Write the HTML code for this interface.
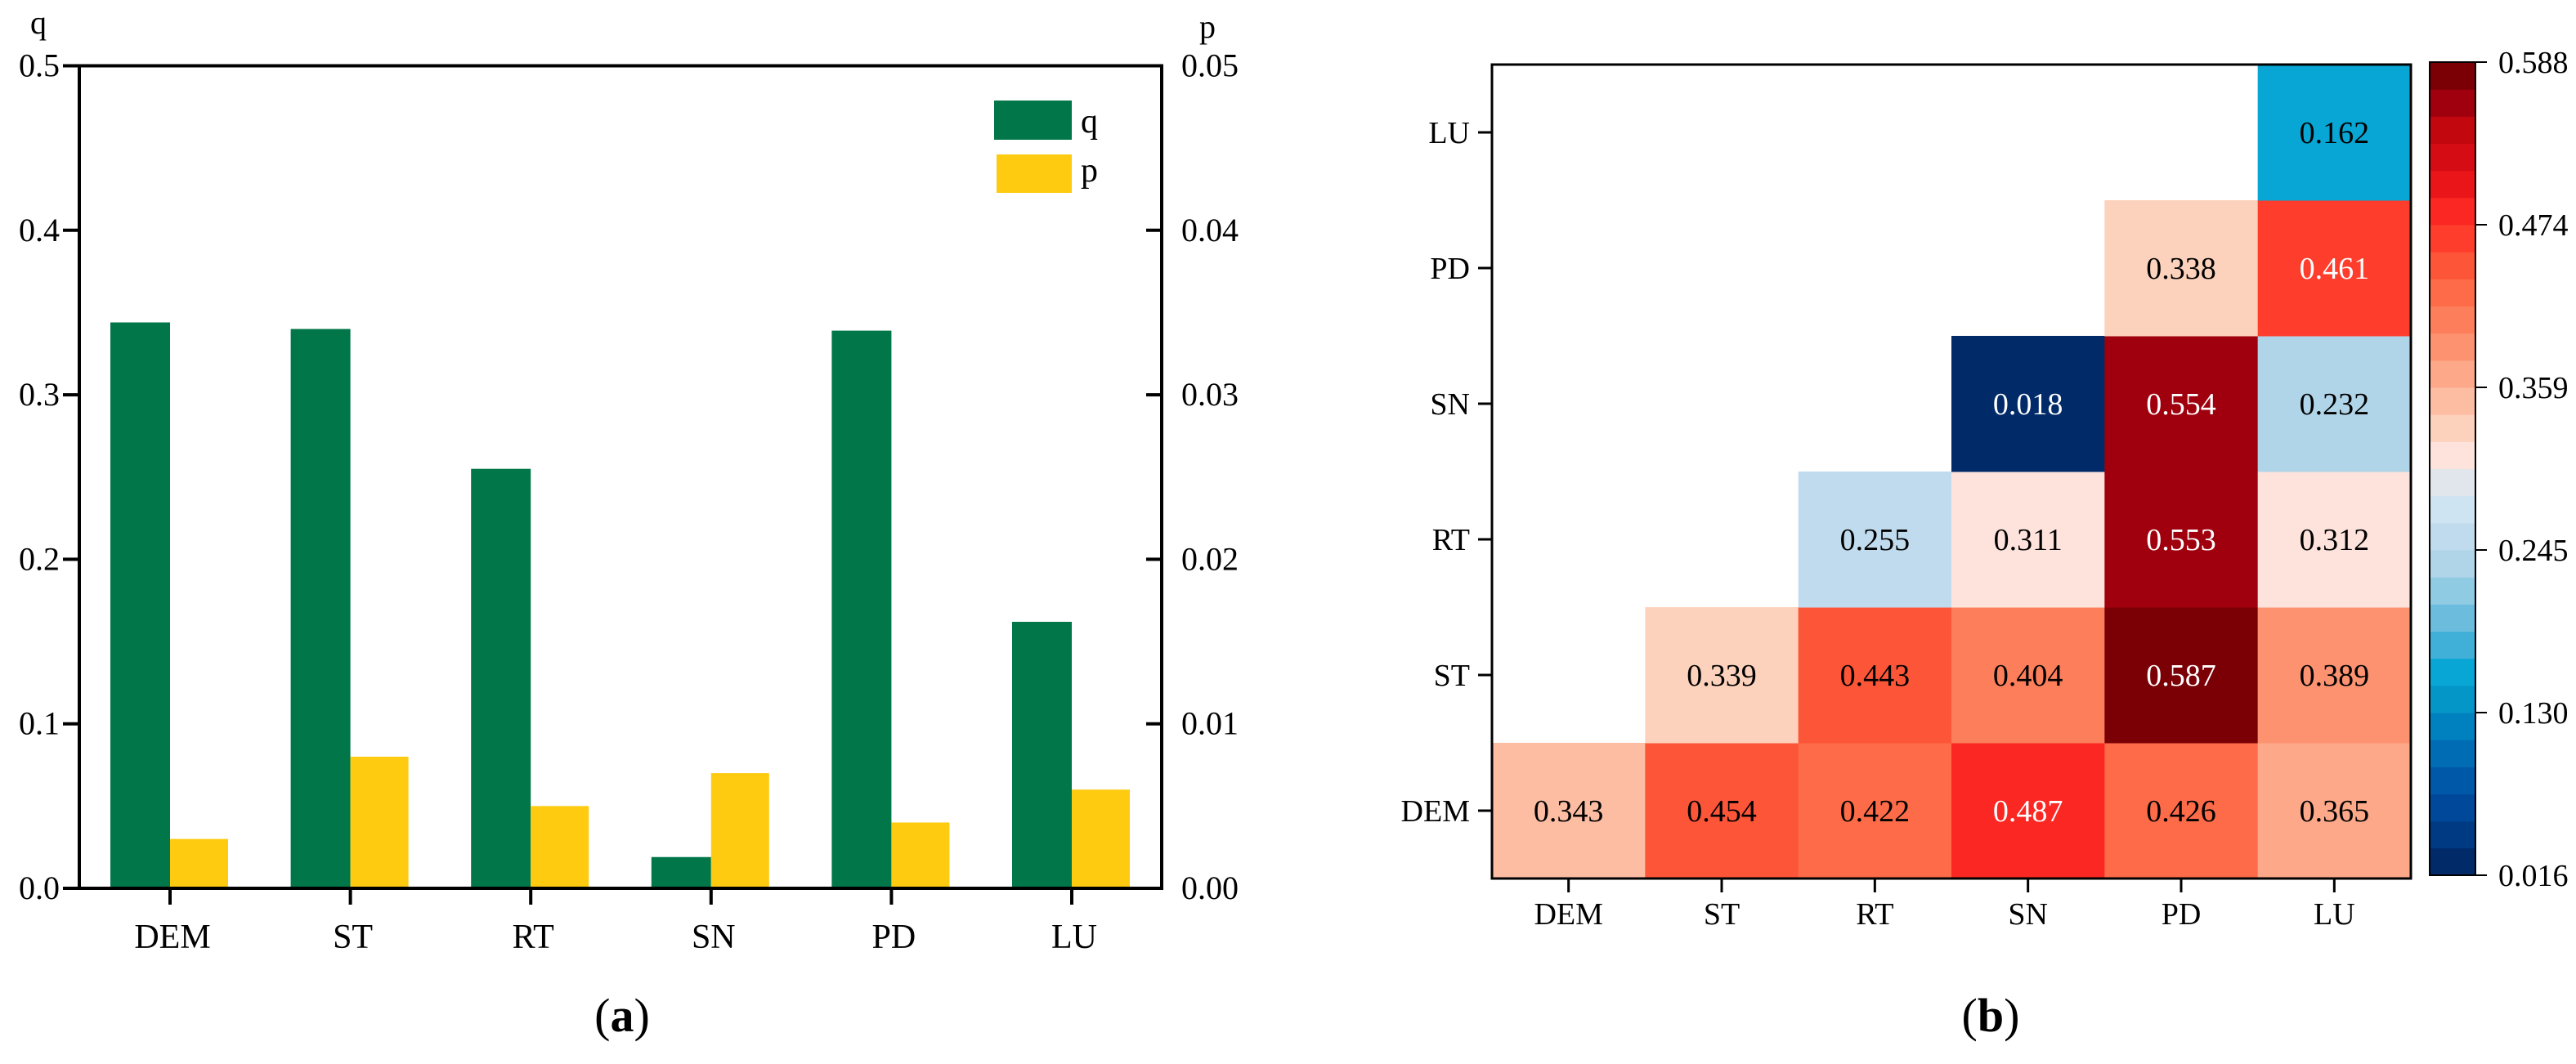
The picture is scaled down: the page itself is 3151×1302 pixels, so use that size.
<!DOCTYPE html>
<html><head><meta charset="utf-8"><style>
html,body{margin:0;padding:0;background:#fff;}
svg{display:block;font-family:"Liberation Serif","DejaVu Serif",serif;}
</style></head><body>
<svg id="fig" width="3151" height="1302" viewBox="0 0 3151 1302" xmlns="http://www.w3.org/2000/svg">
<g id="chartA"></g>
<g id="chartB"></g>
</svg>
<script>
const categories = ["DEM","ST","RT","SN","PD","LU"];
const qValues = [0.344,0.340,0.255,0.019,0.339,0.162];
const pValues = [0.003,0.008,0.005,0.007,0.004,0.006];
const leftTicks = [0.0,0.1,0.2,0.3,0.4,0.5];
const leftTickLabels = ["0.0","0.1","0.2","0.3","0.4","0.5"];
const rightTicks = [0.00,0.01,0.02,0.03,0.04,0.05];
const rightTickLabels = ["0.00","0.01","0.02","0.03","0.04","0.05"];
const heatRows = ["DEM","ST","RT","SN","PD","LU"];
const heatCols = ["DEM","ST","RT","SN","PD","LU"];
// heatValues[row][col], row 0 = DEM (bottom); null = empty
const heatValues = [
 [0.343,0.454,0.422,0.487,0.426,0.365],
 [null,0.339,0.443,0.404,0.587,0.389],
 [null,null,0.255,0.311,0.553,0.312],
 [null,null,null,0.018,0.554,0.232],
 [null,null,null,null,0.338,0.461],
 [null,null,null,null,null,0.162]
];
const cbarMin = 0.016, cbarMax = 0.588;
const cbarTickLabels = ["0.016","0.130","0.245","0.359","0.474","0.588"];
const NS="http://www.w3.org/2000/svg";
function mk(parent,tag,attrs,text){const e=document.createElementNS(NS,tag);for(const k in attrs)e.setAttribute(k,attrs[k]);if(text!==undefined)e.textContent=text;parent.appendChild(e);return e;}

// ---- Chart A ----
const A=document.getElementById('chartA');
const ax={l:97,r:1421,t:80.5,b:1087};
const yL=v=>ax.b-(v/0.5)*(ax.b-ax.t);
const yR=v=>ax.b-(v/0.05)*(ax.b-ax.t);
const xC=i=>208+i*220.6;
const bw=73;
categories.forEach((c,i)=>{
  let r=mk(A,'rect',{x:xC(i)-bw,y:yL(qValues[i]),width:bw,height:ax.b-yL(qValues[i]),fill:'#017648'});
  
  
  r=mk(A,'rect',{x:xC(i),y:yR(pValues[i]),width:bw-2,height:ax.b-yR(pValues[i]),fill:'#fecb10'});
  
  
  mk(A,'line',{x1:xC(i),x2:xC(i),y1:ax.b,y2:ax.b+20,stroke:'#000','stroke-width':4});
  const t=mk(A,'text',{x:xC(i)+3,y:1160,'font-size':42,'text-anchor':'middle'},c);
  
  
});
mk(A,'rect',{x:ax.l,y:ax.t,width:ax.r-ax.l,height:ax.b-ax.t,fill:'none',stroke:'#000','stroke-width':4});
leftTicks.forEach((v,i)=>{
  mk(A,'line',{x1:ax.l-20,x2:ax.l,y1:yL(v),y2:yL(v),stroke:'#000','stroke-width':4});
  const t=mk(A,'text',{x:ax.l-24,y:yL(v)+13,'font-size':40,'text-anchor':'end'},leftTickLabels[i]);
  
  
});
rightTicks.forEach((v,i)=>{
  mk(A,'line',{x1:ax.r-19,x2:ax.r,y1:yR(v),y2:yR(v),stroke:'#000','stroke-width':4});
  const t=mk(A,'text',{x:1445,y:yR(v)+13,'font-size':40,'text-anchor':'start'},rightTickLabels[i]);
  
  
});
</script>
<script>
// static decorations for chart A
(function(){
const A=document.getElementById('chartA');
function T(x,y,s,txt,name,extra){const e=document.createElementNS("http://www.w3.org/2000/svg",'text');e.setAttribute('x',x);e.setAttribute('y',y);e.setAttribute('font-size',s);if(extra)for(const k in extra)e.setAttribute(k,extra[k]);e.textContent=txt;


A.appendChild(e);}
T(37,41,40,'q','left-axis-title');
T(1467,46,40,'p','right-axis-title');
const g=document.createElementNS("http://www.w3.org/2000/svg",'g');


A.appendChild(g);
g.innerHTML='<rect x="1216" y="123" width="95" height="48" fill="#017648"/><rect x="1219" y="189" width="92" height="47" fill="#fecb10"/>';
T(1322,162,42,'q','legend-label-q');
T(1322,222,42,'p','legend-label-p');
T(761,1262,58,'','panel-label-a',{'text-anchor':'middle'});
const last=A.lastChild;last.innerHTML='(<tspan font-weight="bold">a</tspan>)';
})();
</script>
<script>
// ---- Chart B ----
const B=document.getElementById('chartB');
const hb={l:1825,r:2949,t:79,b:1075};
const cw=(hb.r-hb.l)/heatCols.length, rh=(hb.b-hb.t)/heatRows.length;
const cmap=["#002a68","#003a82","#004899","#0059a8","#006cb3","#0081bf","#0596c8","#07a6d4","#40b0d9","#6cbcdd","#90cbe4","#b0d4e8","#c1dbee","#cfe4f2","#e1e6ed","#fde3dc","#fdd2bc","#fdbda3","#fca889","#fc9270","#fc7e5a","#fd6b48","#fd5538","#fe3d2d","#fb2722","#ea1518","#d50c14","#c2070f","#a0000e","#7a0006"];
function colorOf(v){let k=Math.floor((v-cbarMin)/(cbarMax-cbarMin)*cmap.length);k=Math.max(0,Math.min(cmap.length-1,k));return cmap[k];}
heatValues.forEach((row,ri)=>{
  row.forEach((v,ci)=>{
    if(v===null)return;
    const x=hb.l+ci*cw, y=hb.b-(ri+1)*rh;
    const r=mk(B,'rect',{x:x,y:y,width:cw+0.5,height:rh+0.5,fill:colorOf(v)});
    
    
    const white=(v>0.455||v<0.1);
    const t=mk(B,'text',{x:x+cw/2,y:y+rh/2+13,'font-size':38,'text-anchor':'middle',fill:white?'#fff':'#000'},v.toFixed(3));
    
    
  });
});
mk(B,'rect',{x:hb.l,y:hb.t,width:hb.r-hb.l,height:hb.b-hb.t,fill:'none',stroke:'#000','stroke-width':3});
heatCols.forEach((c,i)=>{
  const x=hb.l+(i+0.5)*cw;
  mk(B,'line',{x1:x,x2:x,y1:hb.b,y2:hb.b+17,stroke:'#000','stroke-width':3});
  const t=mk(B,'text',{x:x,y:1131,'font-size':38,'text-anchor':'middle'},c);
  
  
});
heatRows.forEach((c,i)=>{
  const y=hb.b-(i+0.5)*rh;
  mk(B,'line',{x1:hb.l-17,x2:hb.l,y1:y,y2:y,stroke:'#000','stroke-width':3});
  const t=mk(B,'text',{x:1798,y:y+13,'font-size':38,'text-anchor':'end'},c);
  
  
});
// colorbar
const cb={l:2972,r:3028,t:76,b:1071};
const bh=(cb.b-cb.t)/cmap.length;
cmap.forEach((col,k)=>{
  const r=mk(B,'rect',{x:cb.l,y:cb.b-(k+1)*bh,width:cb.r-cb.l,height:bh+0.5,fill:col});
  
  
});
mk(B,'rect',{x:cb.l,y:cb.t,width:cb.r-cb.l,height:cb.b-cb.t,fill:'none',stroke:'#000','stroke-width':2});
cbarTickLabels.forEach((lab,i)=>{
  const y=cb.b-i*(cb.b-cb.t)/(cbarTickLabels.length-1);
  mk(B,'line',{x1:cb.r,x2:cb.r+14,y1:y,y2:y,stroke:'#000','stroke-width':2});
  const t=mk(B,'text',{x:3056,y:y+13,'font-size':38},lab);
  
  
});
const pb=mk(B,'text',{x:2435,y:1262,'font-size':58,'text-anchor':'middle'},'');
pb.innerHTML='(<tspan font-weight="bold">b</tspan>)';


</script>
</body></html>
